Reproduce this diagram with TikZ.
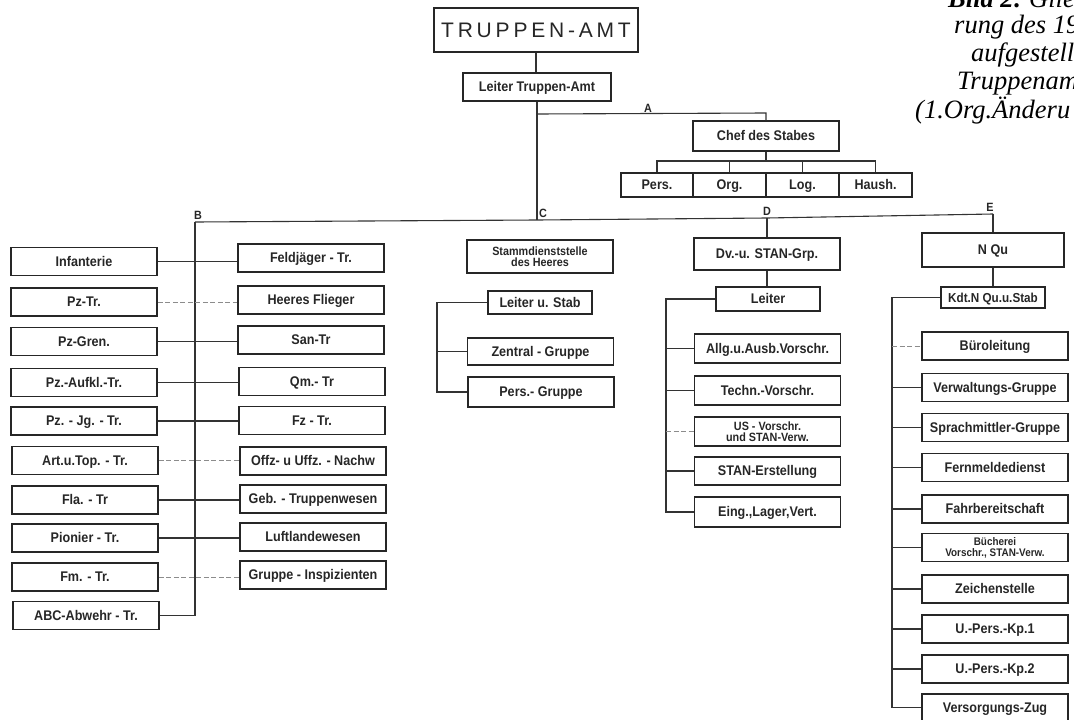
\documentclass[tikz,border=0pt]{standalone}
\usepackage{fontspec}
\newfontfamily\boxfont{Liberation Sans}[FakeStretch=0.9]
\newfontfamily\titlefont{Liberation Sans}
\newfontfamily\capfont{Liberation Serif}
\begin{document}
\begin{tikzpicture}[x=1pt,y=-1pt,
  box/.style={draw=black!85, line width=1.5pt, inner sep=0pt, align=center,
    text=black!85, font=\boxfont\bfseries\fontsize{14}{16}\selectfont},
  one/.style={box, text height=10pt, text depth=1pt},
  wide/.style={one, minimum width=146, minimum height=28},
  small/.style={one, minimum width=104, minimum height=23},
  two/.style={font=\boxfont\bfseries\fontsize{12}{11.5}\selectfont},
  conn/.style={draw=black!80, line width=1.1pt},
  faint/.style={draw=black!45, line width=1pt, dash pattern=on 5pt off 2.5pt},
  tag/.style={font=\boxfont\bfseries\fontsize{12}{12}\selectfont, text=black!85,
    inner sep=0pt, anchor=south},
  capline/.style={font=\capfont\itshape\fontsize{26.5}{26}\selectfont,
    anchor=base west, inner sep=0pt}]
\useasboundingbox (0,0) rectangle (1074,720);
\clip (0,0) rectangle (1074,720);

% ---------- head of the office ----------
\node[box, minimum width=204, minimum height=44, line width=1.9pt,
  font=\titlefont\fontsize{21}{21}\selectfont] (tamt) at (536,30)
  {T\kern3.8pt R\kern3.8pt U\kern3.8pt P\kern3.8pt P\kern3.8pt E\kern3.8pt N\kern3.8pt -\kern3.8pt A\kern3.8pt M\kern3.8pt T};
\node[one, minimum width=148, minimum height=28] (lta) at (537,87) {Leiter Truppen-Amt};
\draw[conn] (tamt.south) -- (tamt.south |- lta.north);

% ---------- branch A: chief of staff ----------
\node[one, minimum width=146, minimum height=30] (chef) at (766,136) {Chef des Stabes};
\node[one, minimum width=72, minimum height=24] (pers) at (657,185) {Pers.};
\node[one, minimum width=73, minimum height=24] (org) at (729.5,185) {Org.};
\node[one, minimum width=73, minimum height=24] (log) at (802.5,185) {Log.};
\node[one, minimum width=73, minimum height=24] (haush) at (875.5,185) {Haush.};
\coordinate (aL) at (537,114);
\coordinate (aR) at (766,113);
\coordinate (cbar) at (0,161);
\draw[conn] (aL) -- (aR) -- (chef.north);
\node[tag] (tA) at (648,113) {A};
\draw[conn] (chef.south) -- (chef.south |- cbar);
\draw[conn] (pers.north) -- (pers.north |- cbar) -- (haush.north |- cbar) -- (haush.north);
\draw[conn] (org.north) -- (org.north |- cbar);
\draw[conn] (log.north) -- (log.north |- cbar);

% ---------- main bus B - C - D - E ----------
\coordinate (bB) at (195,222);
\coordinate (bC) at (537,220);
\coordinate (bD) at (767,218);
\coordinate (bE) at (993,214);
\draw[conn] (lta.south) -- (bC);
\draw[conn] (bB) -- (bC) -- (bD) -- (bE);
\node[tag] (tB) at (198,220) {B};
\node[tag] (tC) at (543,218) {C};
\node[tag] (tD) at (767,216) {D};
\node[tag] (tE) at (990,212) {E};

% ---------- branch B: arms and services ----------
\node[wide] (inf)  at (84,261.5) {Infanterie};
\node[wide] (pzt)  at (84,302)   {Pz-Tr.};
\node[wide] (pzg)  at (84,341.5) {Pz-Gren.};
\node[wide] (pza)  at (84,382.5) {Pz.-Aufkl.-Tr.};
\node[wide] (pzj)  at (84,421)   {Pz. - Jg. - Tr.};
\node[wide] (art)  at (85,460.5) {Art.u.Top. - Tr.};
\node[wide] (fla)  at (85,500)   {Fla. - Tr};
\node[wide] (pio)  at (85,538)   {Pionier - Tr.};
\node[wide] (fm)   at (85,577)   {Fm. - Tr.};
\node[wide] (abc)  at (86,615.5) {ABC-Abwehr - Tr.};

\node[wide] (fjg)  at (311,258)   {Feldjäger - Tr.};
\node[wide] (hfl)  at (311,300)   {Heeres Flieger};
\node[wide] (san)  at (311,340)   {San-Tr};
\node[wide] (qm)   at (312,381.5) {Qm.- Tr};
\node[wide] (fz)   at (312,420.5) {Fz - Tr.};
\node[wide] (offz) at (313,461)   {Offz- u Uffz. - Nachw};
\node[wide] (geb)  at (313,499)   {Geb. - Truppenwesen};
\node[wide] (llw)  at (313,537)   {Luftlandewesen};
\node[wide] (gri)  at (313,575)   {Gruppe - Inspizienten};

\draw[conn] (bB) |- (abc.east);
\draw[conn]  (inf.east) -- (inf.east -| fjg.west);
\draw[faint] (pzt.east) -- (pzt.east -| hfl.west);
\draw[conn]  (pzg.east) -- (pzg.east -| san.west);
\draw[conn]  (pza.east) -- (pza.east -| qm.west);
\draw[conn]  (pzj.east) -- (pzj.east -| fz.west);
\draw[faint] (art.east) -- (art.east -| offz.west);
\draw[conn]  (fla.east) -- (fla.east -| geb.west);
\draw[conn]  (pio.east) -- (pio.east -| llw.west);
\draw[faint] (fm.east)  -- (fm.east -| gri.west);

% ---------- branch C: personnel office of the army ----------
\node[box, two, minimum width=146, minimum height=33] (sds) at (540,256.5)
  {Stammdienststelle\\des Heeres};
\node[small] (lus) at (540,302.5) {Leiter u. Stab};
\node[wide, minimum height=27] (zg) at (540.5,351.5) {Zentral - Gruppe};
\node[wide, minimum height=30] (pg) at (541,392) {Pers.- Gruppe};
\coordinate (cx) at (437,0);
\draw[conn] (lus.west) -| (cx |- pg.west) -- (pg.west);
\draw[conn] (cx |- zg.west) -- (zg.west);

% ---------- branch D: regulations and STAN ----------
\node[wide, minimum height=32] (dv) at (767,254) {Dv.-u. STAN-Grp.};
\node[small, minimum height=24] (dl) at (768,299) {Leiter};
\node[wide, minimum height=29] (d1) at (767.5,348.5) {Allg.u.Ausb.Vorschr.};
\node[wide, minimum height=29] (d2) at (767.5,390.5) {Techn.-Vorschr.};
\node[box, two, minimum width=146, minimum height=29] (d3) at (767.5,431.5) {US - Vorschr.\\und STAN-Verw.};
\node[wide, minimum height=28] (d4) at (767.5,471) {STAN-Erstellung};
\node[wide, minimum height=30] (d5) at (767.5,512) {Eing.,Lager,Vert.};
\draw[conn] (bD) -- (dv.north);
\draw[conn] (dv.south) -- (dv.south |- dl.north);
\coordinate (dx) at (666,0);
\draw[conn] (dl.west) -| (dx |- d5.west) -- (d5.west);
\draw[conn]  (dx |- d1.west) -- (d1.west);
\draw[conn]  (dx |- d2.west) -- (d2.west);
\draw[faint] (dx |- d3.west) -- (d3.west);
\draw[conn]  (dx |- d4.west) -- (d4.west);

% ---------- branch E: headquarters ----------
\node[one, minimum width=142, minimum height=34] (nqu) at (993,250) {N Qu};
\node[small, minimum height=21, font=\boxfont\bfseries\fontsize{13}{14}\selectfont]
  (kdt) at (993,297.5) {Kdt.N Qu.u.Stab};
\node[wide] (e1)  at (995,346)   {Büroleitung};
\node[wide] (e2)  at (995,387.5) {Verwaltungs-Gruppe};
\node[wide] (e3)  at (995,427.5) {Sprachmittler-Gruppe};
\node[wide] (e4)  at (995,467.5) {Fernmeldedienst};
\node[wide] (e5)  at (995,509)   {Fahrbereitschaft};
\node[box, font=\boxfont\bfseries\fontsize{11}{11}\selectfont, minimum width=146,
  minimum height=28] (e6) at (995,547.5) {Bücherei\\Vorschr., STAN-Verw.};
\node[wide] (e7)  at (995,589)   {Zeichenstelle};
\node[wide] (e8)  at (995,629)   {U.-Pers.-Kp.1};
\node[wide] (e9)  at (995,669)   {U.-Pers.-Kp.2};
\node[wide, minimum height=27] (e10) at (995,707.5) {Versorgungs-Zug};
\draw[conn] (bE) -- (nqu.north);
\draw[conn] (nqu.south) -- (kdt.north);
\coordinate (ex) at (892,0);
\draw[conn] (kdt.west) -| (ex |- e10.west) -- (e10.west);
\draw[faint] (ex |- e1.west) -- (e1.west);
\foreach \n in {e2,e3,e4,e5,e6,e7,e8,e9}
  \draw[conn] (ex |- \n.west) -- (\n.west);

% ---------- caption ----------
\node[capline] (cap1) at (948,8)   {\bfseries Bild 2:\mdseries\ Glie};
\node[capline] (cap2) at (954,34)  {rung des 19};
\node[capline] (cap3) at (971,61)  {aufgestell};
\node[capline] (cap4) at (957,89)  {Truppenam};
\node[capline] (cap5) at (915,118) {(1.Org.Änderu};
\end{tikzpicture}
\end{document}
